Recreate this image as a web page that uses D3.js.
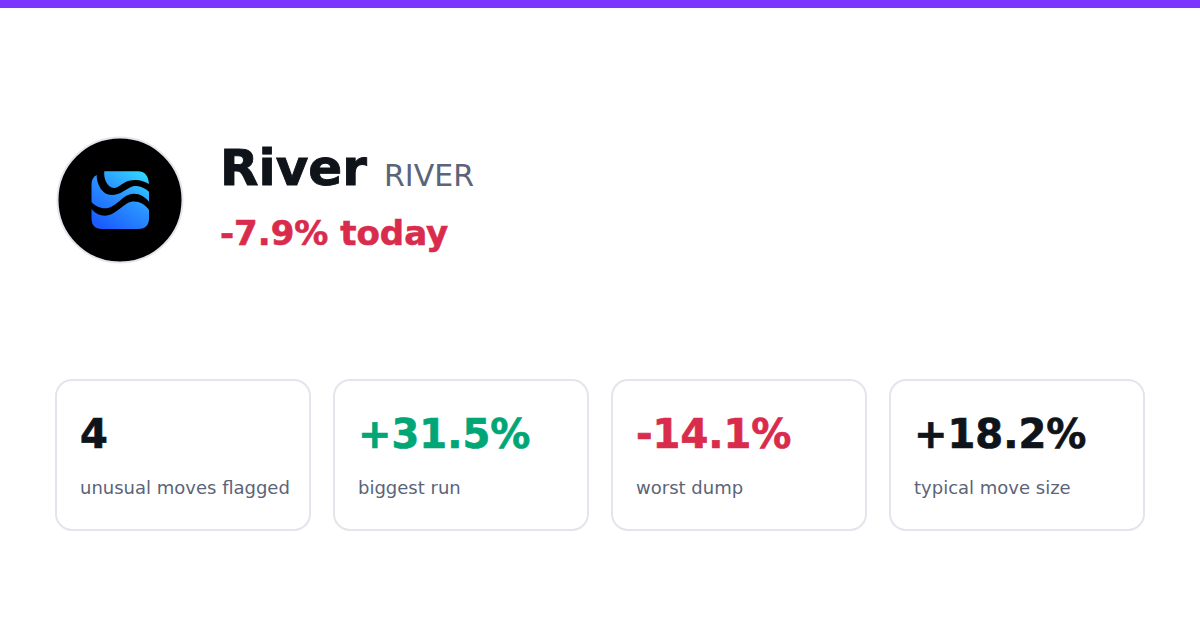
<!DOCTYPE html>
<html>
<head>
<meta charset="utf-8">
<script src="https://cdn.jsdelivr.net/npm/d3@7"></script>
<style>
  html, body { margin: 0; padding: 0; background: #fff; }
  svg { display: block; }
  text { font-family: "DejaVu Sans", sans-serif; }
</style>
</head>
<body>
<script>
var
  tokenName = 'River',
  tokenSymbol = 'RIVER',
  todayLabel = '-7.9% today',
  statValues = ['4', '+31.5%', '-14.1%', '+18.2%'],
  statLabels = ['unusual moves flagged', 'biggest run', 'worst dump', 'typical move size'],
  statColors = ['#0f131a', '#00a676', '#d92b4b', '#0f131a'],

  w = 1200,
  h = 630,

  svg = d3.select('body').append('svg').attr('width', w).attr('height', h),

  cardX = d3.scaleBand()
    .domain(d3.range(statValues.length))
    .range([56, 1144 + 24])
    .paddingInner(0)
    .paddingOuter(0);

// top stripe
svg.append('rect').attr('width', w).attr('height', 8).attr('fill', '#7b35ff');

// logo
var grad = svg.append('defs').append('linearGradient')
  .attr('id', 'logoGrad')
  .attr('gradientUnits', 'userSpaceOnUse')
  .attr('x1', 146).attr('y1', 171).attr('x2', 105).attr('y2', 229);
grad.append('stop').attr('offset', 0).attr('stop-color', '#33dcff');
grad.append('stop').attr('offset', 0.5).attr('stop-color', '#2a90ff');
grad.append('stop').attr('offset', 1).attr('stop-color', '#1a5cff');

svg.append('circle')
  .attr('cx', 120).attr('cy', 200).attr('r', 62.5)
  .attr('fill', '#000').attr('stroke', '#e3e5ec').attr('stroke-width', 2);

svg.append('path').attr('fill', 'url(#logoGrad)').attr('d',
  // top band
  'M104.3 171.3 H138 Q148 171.3 149 184 C144 180.5 136 178.5 128 181 C122 183 118 188.5 113.5 188 C107 187 103.5 179 104.3 171.3 Z' +
  // middle band
  'M96.7 175 C96.7 184 102 195 112 195 C119 195 124 190.5 130 187.5 C137 184 144 187 149 191.7 V201.7 C144 195.5 136 191.5 128 195 C121 198 116 206 108 208 C102 209.5 95 206 91.5 202 V185 Q91.5 177.5 96.7 175 Z' +
  // bottom band
  'M91.5 209 C95 213.5 100 215.7 105 215.7 C113 215.7 120 208 127 203.5 C135 199 144 203 149 210 V218 Q149 229 138 229 H102 Q91.5 229 91.5 218 Z');

// header text
svg.append('text')
  .attr('x', 220).attr('y', 185)
  .attr('font-size', 50).attr('font-weight', 700).attr('fill', '#0f131a')
  .attr('stroke', '#0f131a').attr('stroke-width', 0.9)
  .text(tokenName);

svg.append('text')
  .attr('x', 384).attr('y', 186)
  .attr('font-size', 30).attr('fill', '#5b6478')
  .text(tokenSymbol);

svg.append('text')
  .attr('x', 220).attr('y', 245)
  .attr('font-size', 34).attr('font-weight', 700).attr('fill', '#d92b4b')
  .attr('stroke', '#d92b4b').attr('stroke-width', 0.6)
  .text(todayLabel);

// stat cards
var cards = svg.selectAll('g.card')
  .data(statValues)
  .enter().append('g')
  .attr('class', 'card')
  .attr('transform', function (d, i) { return 'translate(' + cardX(i) + ',380)'; });

cards.append('rect')
  .attr('width', cardX.bandwidth() - 24).attr('height', 150).attr('rx', 16)
  .attr('fill', '#fff').attr('stroke', '#e3e5ec').attr('stroke-width', 2);

cards.append('text')
  .attr('x', 24).attr('y', 68)
  .attr('font-size', 40).attr('font-weight', 700)
  .attr('fill', function (d, i) { return statColors[i]; })
  .attr('stroke', function (d, i) { return statColors[i]; })
  .attr('stroke-width', 0.7)
  .text(function (d) { return d; });

cards.append('text')
  .attr('x', 24).attr('y', 114)
  .attr('font-size', 18).attr('fill', '#5b6478')
  .text(function (d, i) { return statLabels[i]; });
</script>
</body>
</html>
